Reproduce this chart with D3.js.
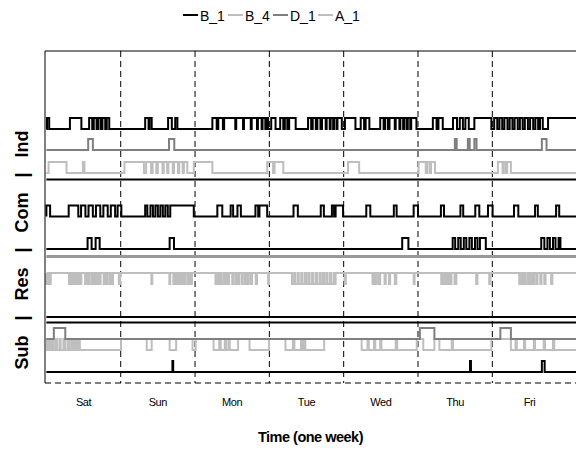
<!DOCTYPE html>
<html>
<head>
<meta charset="UTF-8">
<title>week_states</title>
<script src="https://cdn.jsdelivr.net/npm/d3@7"></script>
<style>
  body { margin: 0; background: #fff; }
  text { font-family: "Liberation Sans", Arial, sans-serif; fill: #000; }
  .day { font-size: 11px; text-anchor: middle; letter-spacing: -0.4px; }
  .title { font-weight: bold; text-anchor: middle; }
  .leg { font-size: 14px; }
</style>
</head>
<body>
<div id="chart"></div>
<script>
// ---- data (time in hours from Saturday 00:00) ----
var days = ["Sat", "Sun", "Mon", "Tue", "Wed", "Thu", "Fri"];
var legendSeries = ["B_1", "B_4", "D_1", "A_1"];
var groupTitle = "Sub   |   Res   |   Com   |   Ind";
var xTitle = "Time (one week)";

// "on" periods
var indB1 = [[0.2,0.9],[7.6,11.3],[13.8,14.8],[15.3,16.2],[16.7,17.5],[18.1,19],[19.5,20.3],
  [31.9,33],[33.3,34],[39.3,40.5],[41.6,42.3],
  [53.6,55],[55.5,57],[57.4,61],[61.3,63.5],[63.8,66],[66.3,68],[68.3,69.5],[69.8,70.7],[71,71.6],
  [72.6,74],[75.5,76.5],[77,77.8],[78.4,80.5],
  [84.5,85.5],[86,87],[87.5,88.5],[89,90.2],[90.5,91.5],[91.8,92.6],[92.9,93.7],[94,95.4],
  [96.4,99.8],[101.5,102.6],[103.1,104.3],
  [107.8,108.9],[109.4,110.3],[110.8,112.5],[112.8,114],[114.3,115.2],[115.6,116.4],[116.7,117.5],[117.8,119.5],
  [124.8,126],[126.6,128],[131.3,132.6],[133.5,134.5],[135.3,136.4],[138.2,143.7],
  [144.6,145.6],[146.3,147.2],[147.9,148.9],[149.6,150.5],[151.2,152.2],[152.9,153.8],[154.5,155.5],
  [156.2,157.2],[157.9,158.8],[159.4,160.3],[162,171.5]];
var indD1 = [[13.5,15],[39.6,41.3],[131.9,132.5],[136.1,136.7],[138.2,138.9],[160,161.5]];
var indA1 = [[0.7,6.5],[11.8,12.3],[25.2,31.5],[32.2,33.8],[34.3,35.5],[36,37.5],[37.9,39],[39.4,40.8],
  [41.2,42.5],[42.9,44],[44.4,45.5],[47.6,53.6],[71.3,73.2],[73.7,76.5],[97.4,101],
  [120.2,122.5],[123,123.8],[124.2,125.5],[145.8,147.3],[147.7,148.4],[148.8,150]];
var comB1 = [[0,1.2],[7.2,10.3],[11.2,12.6],[13.6,15],[16,17.4],[18.4,19.8],[20.8,22.2],[23,24.2],
  [31.9,32.6],[33.6,34.4],[35.2,36],[36.8,37.6],[38.4,39.2],[40,47.6],
  [55.2,56.8],[59.5,60.3],[61.7,62.8],[67.5,68.4],[68.8,71.3],
  [79.8,81.2],[88.6,89.6],[92.2,92.9],[93.4,95.8],[103.3,104.6],[112.2,113.1],[118.6,120],
  [127.4,128.4],[133.7,134.6],[138.5,139.8],[142.6,144.1],[151,152.4],[157.8,158.7],[164.6,165.6]];
var comB1b = [[13.3,14.6],[15.9,17.2],[39.8,41.2],[114.9,116.9],
  [131.2,132],[133,133.8],[134.8,135.6],[136.6,137.4],[138.4,139.2],[140,141.9],
  [159.8,160.8],[161.8,162.6],[163.6,164.4],[165.4,166]];
var subD1 = [[2.4,6.1],[120.6,125.3],[146.6,150]];
var subB1 = [[40.7,40.95],[136.8,137.1],[160,160.9]];

// "off" periods (these meters are on most of the time)
var resB4 = [[0,0.4],[0.6,1.0],[1.1,1.4],
  [7.3,7.7],[8.2,8.6],[9.0,9.5],[10.1,10.4],[10.9,11.3],
  [12.5,12.9],[13.4,13.8],[14.5,14.8],[15.2,15.6],
  [16.2,16.6],[17.2,17.5],[18.5,18.8],[19.3,19.8],[20.5,20.8],[21.1,21.5],
  [23.4,23.8],[33.9,34.2],[39.7,40],
  [41,41.4],[42,42.3],[42.8,43.2],[43.7,44.1],[44.5,44.9],[45.6,46],[46.6,47],
  [54.6,55],[55.6,55.9],[56.5,57.2],[57.8,58.1],[58.5,59],[60,60.3],[61,61.4],[61.8,62.2],
  [63,63.3],[64,64.4],[64.9,65.3],[66,66.4],[67.6,68],[71.6,71.9],
  [79.3,80],[80.4,81.2],[81.5,82.3],[82.7,83.5],[83.9,84.6],[85,85.8],[86.2,87],[87.4,88.2],
  [88.6,89.3],[89.7,90.4],[90.8,91.6],[92,92.8],[93,93.4],
  [96.3,96.7],[105.3,105.7],[106.2,106.6],[107.3,107.8],[109.2,109.6],[110.6,111],[112.5,113],[118.6,118.9],
  [127.5,128],[128.4,129],[129.5,130],[130.4,130.8],[131.8,132.4],[138.8,139.2],[143,143.4],
  [152.7,153.3],[153.7,154.3],[154.8,155.5],[156,156.4],[157,157.5],[158.2,158.6],[159.5,159.9],
  [160.8,161.2],[163,163.4]];
var subA1 = [[0.2,0.8],[1.3,1.9],[2.3,3.0],[3.4,4.2],[4.6,5.5],[6,6.8],[7.3,8],[8.6,9.2],[9.6,10.2],
  [10.8,24.1],[32.4,34],[39.8,41.9],[47.2,48.2],
  [54,55.8],[56.3,57.6],[58,58.8],[59.2,61.9],[65.6,71.9],
  [77.2,79.6],[80.1,82.2],[82.6,83.2],[83.6,89.7],
  [101.8,103.7],[104.1,105.8],[106.2,107.8],[108.2,112.8],[113.3,119.6],[121.7,125.3],
  [126.9,130.9],[131.3,143.7],
  [150,151.5],[151.9,154.2],[154.6,157.4],[157.8,160.6],[161,163.6],[164,171.5]];

// trace rows: level is the y value of the "off" state
var traces = [
  { group: "Ind", series: "B_1", level: 23.1, init: 0, periods: indB1 },
  { group: "Ind", series: "D_1", level: 21.2, init: 0, periods: indD1 },
  { group: "Ind", series: "A_1", level: 19.1, init: 0, periods: indA1 },
  { group: "Ind", series: "sep", level: 18.5, init: 0, periods: [] },
  { group: "Com", series: "B_1", level: 15.15, init: 0, periods: comB1 },
  { group: "Com", series: "B_1", level: 12.2, init: 0, periods: comB1b },
  { group: "Com", series: "sepGray", level: 11.5, init: 0, periods: [] },
  { group: "Res", series: "B_4", level: 9.0, init: 1, periods: resB4 },
  { group: "Sub", series: "sep", level: 6.0, init: 0, periods: [] },
  { group: "Sub", series: "sep", level: 5.5, init: 0, periods: [] },
  { group: "Sub", series: "A_1", level: 3.0, init: 1, periods: subA1 },
  { group: "Sub", series: "D_1", level: 4.0, init: 0, periods: subD1 },
  { group: "Sub", series: "B_1", level: 1.0, init: 0, periods: subB1 }
];

var colors = { "B_1": "#000000", "B_4": "#bebebe", "D_1": "#7f7f7f", "A_1": "#bebebe",
               "sep": "#000000", "sepGray": "#999999" };

// ---- drawing ----
var W = 576, H = 454;
var plot = { left: 45, top: 51, bottom: 383 };
var endHour = 171.5;
var pxPerHour = 74.32 / 24;

var x = d3.scaleLinear()
    .domain([-0.45, endHour])
    .range([plot.left, plot.left + (endHour + 0.45) * pxPerHour]);
var y = d3.scaleLinear()
    .domain([0, 30.2])
    .range([plot.bottom, plot.top]);

var svg = d3.select("#chart").append("svg")
    .attr("width", W)
    .attr("height", H);

// day dividers
svg.selectAll("line.dayline")
    .data(d3.range(1, days.length))
    .enter()
    .append("line")
        .attr("class", "dayline")
        .attr("x1", function (d) { return x(d * 24); })
        .attr("x2", function (d) { return x(d * 24); })
        .attr("y1", plot.top)
        .attr("y2", plot.bottom)
        .attr("stroke", "#000")
        .attr("stroke-width", 1)
        .attr("stroke-dasharray", "6,4");

function steps(t) {
    var pts = [[0, t.init]];
    t.periods.forEach(function (p) {
        pts.push([p[0], 1 - t.init]);
        pts.push([p[1], t.init]);
    });
    pts.push([endHour, t.init]);
    return pts.map(function (d) { return [d[0], t.level + d[1]]; });
}

var line = d3.line()
    .x(function (d) { return x(d[0]); })
    .y(function (d) { return y(d[1]); })
    .curve(d3.curveStepAfter);

svg.selectAll("path.trace")
    .data(traces)
    .enter()
    .append("path")
        .attr("class", "trace")
        .attr("d", function (d) { return line(steps(d)); })
        .attr("fill", "none")
        .attr("stroke", function (d) { return colors[d.series]; })
        .attr("stroke-width", function (d) { return d.series == "sepGray" ? 3 : 2; });

// frame
svg.append("line")
    .attr("x1", plot.left).attr("x2", plot.left)
    .attr("y1", plot.top).attr("y2", plot.bottom)
    .attr("stroke", "#000");
svg.append("line")
    .attr("x1", plot.left).attr("x2", W)
    .attr("y1", plot.top).attr("y2", plot.top)
    .attr("stroke", "#000");
svg.append("line")
    .attr("x1", plot.left).attr("x2", W)
    .attr("y1", plot.bottom).attr("y2", plot.bottom)
    .attr("stroke", "#000")
    .attr("stroke-dasharray", "6,4");

// day names
svg.selectAll("text.day")
    .data(days)
    .enter()
    .append("text")
        .attr("class", "day")
        .attr("x", function (d, i) { return x(i * 24 + 12); })
        .attr("y", 406)
        .text(function (d) { return d; });

// axis titles
svg.append("text")
    .attr("class", "title")
    .attr("x", (plot.left + W) / 2)
    .attr("y", 442)
    .style("font-size", "14.5px")
    .style("letter-spacing", "-0.5px")
    .text(xTitle);

svg.append("text")
    .attr("class", "title")
    .attr("transform", "translate(28,250) rotate(-90)")
    .style("font-size", "18px")
    .style("white-space", "pre")
    .text(groupTitle);

// legend
var leg = svg.selectAll("g.leg")
    .data(legendSeries)
    .enter()
    .append("g")
        .attr("class", "leg")
        .attr("transform", function (d, i) { return "translate(" + (183 + i * 45) + ",0)"; });

leg.append("line")
    .attr("x1", 0).attr("x2", 15)
    .attr("y1", 15).attr("y2", 15)
    .attr("stroke", function (d) { return colors[d]; })
    .attr("stroke-width", 2);

leg.append("text")
    .attr("class", "leg")
    .attr("x", 17)
    .attr("y", 21)
    .text(function (d) { return d; });
</script>
</body>
</html>
